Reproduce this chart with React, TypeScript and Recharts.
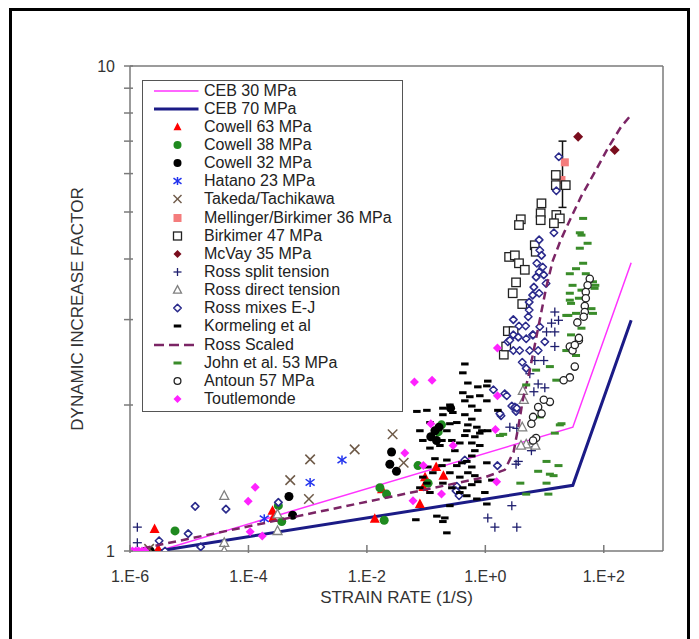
import React from 'react';
import { ScatterChart, Scatter, XAxis, YAxis, ReferenceLine, ErrorBar, Legend } from 'recharts';

type Pt = [number, number];

const FONT = '"Liberation Sans", Arial, sans-serif';
const AXIS = '#7a7a7a';

// tick values and labels
const xTicks = [1e-6, 1e-4, 1e-2, 1, 100];
const xTickLabels = ['1.E-6', '1.E-4', '1.E-2', '1.E+0', '1.E+2'];
const yTicks = [1, 2, 3, 4, 5, 6, 7, 8, 9, 10];
const yTickLabels: Record<number, string> = { 1: '1', 10: '10' };

// model curves
const ceb30: Pt[] = [[3e-6, 1], [30, 1.8], [290, 3.93]];
const ceb70: Pt[] = [[3e-6, 1], [30, 1.366], [290, 2.99]];
const rossScaled: Pt[] = [
  [1e-6, 1], [1.0, 1.42], [2.13, 1.47], [3.0, 1.6], [3.6, 1.8], [4.3, 2.05], [5.64, 2.36],
  [7.1, 2.72], [8.87, 3.12], [10.7, 3.5], [13.7, 3.96], [18.5, 4.36], [26.7, 4.81],
  [41.7, 5.39], [70.5, 6.04], [119, 6.79], [194, 7.48], [297, 7.96],
];

// test data
const cowell63: Pt[] = [
  [2.6e-6, 1.11], [3.0e-6, 1.01], [2.55e-4, 1.21], [2.6e-4, 1.17], [1.8e-2, 1.34], [1.36e-2, 1.165],
  [0.148, 1.49], [0.196, 1.43], [0.096, 1.42], [0.09, 1.355], [0.0785, 1.25],
];
const cowell38: Pt[] = [
  [5.75e-6, 1.1], [3.2e-4, 1.24], [3.65e-4, 1.15], [1.66e-2, 1.35], [2.15e-2, 1.31], [1.96e-2, 1.157],
  [0.182, 1.82], [0.16, 1.76], [0.073, 1.5], [0.108, 1.38],
];
const cowell32: Pt[] = [
  [2.2e-6, 1.0], [4.83e-4, 1.295], [5.57e-4, 1.185], [2.61e-2, 1.6], [2.44e-2, 1.51], [3.16e-2, 1.46],
  [0.259, 1.97], [0.141, 1.77], [0.12, 1.72], [0.15, 1.69], [0.165, 1.8],
];
const hatano: Pt[] = [[1.85e-4, 1.165], [1.1e-3, 1.385], [3.8e-3, 1.54]];
const takeda: Pt[] = [
  [2.1e-6, 1.01], [5.07e-4, 1.4], [1.1e-3, 1.545], [1.05e-3, 1.28], [6.22e-3, 1.62], [2.72e-2, 1.74], [4.18e-2, 1.52],
];
const mellinger: Pt[] = [[22.0, 6.33], [19.3, 5.82]];
const mellingerSpread = [{ x: 20.1, y: 5.93, err: [0.82, 1.07] }];
const birkimer: Pt[] = [
  [15.5, 5.96], [15.5, 5.68], [22.8, 5.68], [8.87, 5.21], [8.6, 4.97], [8.6, 4.81], [3.97, 4.83], [3.7, 4.7],
  [15.8, 4.93], [18.1, 4.85], [14.4, 4.74], [6.84, 4.27], [7.1, 4.14], [2.52, 4.04], [3.15, 4.07], [3.7, 3.92],
  [4.64, 3.8], [3.3, 3.58], [2.9, 3.4], [4.2, 3.23], [2.4, 2.84], [3.0, 2.84], [2.05, 2.54], [2.25, 2.64],
];
const mcvay: Pt[] = [[36.9, 7.15], [153, 6.71]];
const rossSplit: Pt[] = [
  [1.33e-6, 1.12], [1.33e-6, 1.04], [14.9, 3.11], [17.2, 2.99], [13.1, 2.95], [14.9, 2.83], [10.8, 2.83],
  [14.9, 2.64], [6.84, 2.47], [9.7, 2.47], [5.64, 2.32], [7.8, 2.21], [10.1, 2.17], [6.6, 2.13], [2.59, 1.8],
  [3.4, 1.79], [3.3, 1.51], [3.6, 1.53], [6.0, 1.61], [2.8, 1.24], [1.1, 1.17], [1.45, 1.12], [3.4, 1.12],
];
const rossDirect: Pt[] = [
  [3.9e-5, 1.3], [3.9e-5, 1.04], [3.9e-5, 1.0], [3.1e-4, 1.19], [3.1e-4, 1.1], [4.3, 2.14], [4.47, 2.05],
  [4.2, 1.8], [4.9, 1.66], [4.0, 1.65], [6.4, 1.69], [7.0, 1.65],
];
const rossMixes: Pt[] = [
  [3.9e-6, 1.0], [3.1e-6, 1.05], [9.6e-6, 1.086], [1.26e-5, 1.236], [1.56e-5, 1.02], [4.17e-5, 1.22], [3.2e-4, 1.26],
  [0.45, 1.54], [0.33, 1.36], [0.32, 1.33], [0.36, 1.3], [1.37, 2.15], [2.13, 2.11], [2.8, 1.99], [3.3, 1.94],
  [1.84, 1.9], [1.6, 1.5],
  [17.4, 6.5], [15.8, 5.53], [14.4, 4.53], [8.1, 4.38], [8.3, 4.17], [8.9, 4.07], [7.4, 3.92], [9.3, 3.85],
  [8.1, 3.76], [9.7, 3.71], [7.2, 3.67], [10.6, 3.56], [6.6, 3.5], [8.1, 3.4], [6.3, 3.37], [5.5, 3.26],
  [5.5, 3.14], [5.3, 3.04], [2.97, 3.0], [3.7, 2.91], [4.8, 2.91], [6.3, 2.79], [2.97, 2.79], [4.9, 2.74],
  [2.4, 2.7], [2.97, 2.59], [3.8, 2.59], [5.6, 2.59], [7.8, 2.59], [10.1, 2.7], [4.2, 2.45], [4.9, 2.38],
  [3.15, 1.98], [2.59, 2.72], [3.6, 2.76], [6.4, 2.79], [8.3, 2.9], [2.3, 2.09], [3.4, 1.97], [1.76, 1.92],
];
const kormeling: Pt[] = [
  [0.451, 2.43], [0.417, 2.33], [0.507, 2.22], [0.747, 2.18], [1.06, 2.19], [1.1, 2.24], [0.417, 2.12],
  [0.547, 2.08], [0.807, 2.09], [1.06, 2.04], [0.451, 2.04], [0.591, 1.99], [0.747, 1.95], [0.451, 1.91],
  [0.591, 1.87], [0.507, 1.82], [0.719, 1.8], [0.873, 1.77], [0.487, 1.77], [0.451, 1.73], [0.665, 1.72],
  [0.807, 1.75], [0.807, 1.65], [0.665, 1.61], [0.591, 1.57], [0.487, 1.53], [0.401, 1.52], [0.591, 1.49],
  [0.507, 1.45], [0.665, 1.43], [0.747, 1.39], [0.591, 1.37], [0.417, 1.35], [0.272, 1.35], [0.371, 1.32],
  [0.487, 1.3], [0.719, 1.28], [0.981, 1.32], [1.06, 1.25], [0.252, 1.24], [0.207, 1.17], [0.192, 1.15],
  [0.224, 1.09], [0.0671, 1.16], [0.152, 1.18], [0.116, 1.32], [0.103, 1.38], [0.0881, 1.42], [0.107, 1.49],
  [0.141, 1.55], [0.116, 1.63], [0.0881, 1.69], [0.0785, 1.77], [0.116, 1.84], [0.0698, 1.94], [0.103, 1.95],
  [0.192, 1.91], [0.192, 1.97], [0.252, 2.0], [0.252, 1.83], [0.224, 1.77], [0.185, 1.69], [0.272, 1.69],
  [0.306, 1.61], [0.224, 1.54], [0.185, 1.5], [0.33, 1.5], [0.252, 1.45], [0.192, 1.38], [0.371, 1.42],
  [0.13, 1.45], [0.0785, 1.35], [1.1, 1.77], [1.29, 1.4], [1.06, 1.52], [1.63, 1.95], [0.171, 1.65],
  [0.371, 1.67], [0.33, 1.84], [0.283, 1.93], [0.591, 1.67],
];
const john: Pt[] = [
  [44.8, 4.85], [39.4, 4.53], [42, 4.48], [53.3, 4.31], [39.4, 4.21], [44.8, 3.92], [34, 3.82], [26.7, 3.73],
  [65.7, 3.59], [29.7, 3.53], [70, 3.48], [26.7, 3.4], [38, 3.32], [28, 3.24], [62, 3.16], [34, 3.09],
  [25.2, 3.06], [42, 2.88], [49.7, 3.73], [72, 3.53], [42, 3.45], [26.7, 3.29], [65.7, 3.09], [23.3, 3.06],
  [28, 2.79], [23.3, 2.59], [12.3, 2.4], [7.2, 2.36], [34, 2.53], [15.8, 2.25], [8.3, 1.89], [4.9, 2.2],
  [14.9, 1.75], [18.1, 1.82], [1.76, 1.73], [10.8, 1.53], [17.2, 1.5], [12.3, 1.44], [3.9, 1.38], [10.8, 1.38],
  [2.0, 1.74], [19.3, 1.83], [7.8, 1.46], [14.2, 1.43], [11.6, 1.31], [4.9, 1.31],
];
const antoun: Pt[] = [
  [58, 3.64], [53.3, 3.53], [49.7, 3.42], [49.7, 3.32], [47.8, 3.2], [47.8, 3.11], [45.8, 3.04], [35.8, 2.96],
  [38, 2.72], [26.7, 2.64], [29.7, 2.59], [32.4, 2.4], [26.7, 2.28], [21, 2.25], [12.3, 2.03], [9.7, 2.05],
  [7.8, 1.98], [8.9, 1.92], [6.4, 1.89], [6.0, 1.83], [7.2, 1.71], [6.4, 1.69], [32.4, 2.66], [38, 2.75],
];
const toutlemonde: Pt[] = [
  [1.0e-6, 1], [1.1e-6, 1], [1.25e-6, 1], [1.4e-6, 1], [1.6e-6, 1], [1.8e-6, 1], [1.3e-4, 1.353],
  [9.9e-5, 1.266], [1.07e-4, 1.096], [1.71e-4, 1.074], [4.37e-2, 1.593], [6.35e-2, 2.23], [0.126, 2.25],
  [0.12, 1.83], [0.285, 1.65], [0.09, 1.5], [0.182, 1.31], [0.06, 1.27], [1.48, 1.78], [1.55, 1.39],
  [1.6, 2.09], [1.6, 2.62],
];

type Kind = 'line' | 'tri' | 'triOpen' | 'circle' | 'circleOpen' | 'square' | 'squareOpen' | 'diamond'
  | 'diamondOpen' | 'plus' | 'cross' | 'star' | 'dash';

interface Series {
  name: string;
  kind: Kind;
  color: string;
  size: number;
  data: Pt[];
  width?: number;
  dash?: string;
}

const series: Series[] = [
  { name: 'CEB 30 MPa', kind: 'line', color: '#ff33ff', size: 0, width: 1.5, data: ceb30 },
  { name: 'CEB 70 MPa', kind: 'line', color: '#1b1b86', size: 0, width: 3, data: ceb70 },
  { name: 'Cowell 63 MPa', kind: 'tri', color: '#ff0000', size: 10, data: cowell63 },
  { name: 'Cowell 38 MPa', kind: 'circle', color: '#1f8a1f', size: 9, data: cowell38 },
  { name: 'Cowell 32 MPa', kind: 'circle', color: '#000000', size: 9, data: cowell32 },
  { name: 'Hatano 23 MPa', kind: 'star', color: '#2233ee', size: 9, data: hatano },
  { name: 'Takeda/Tachikawa', kind: 'cross', color: '#6e5a48', size: 9.5, data: takeda },
  { name: 'Mellinger/Birkimer 36 MPa', kind: 'square', color: '#f47c7c', size: 8, data: mellinger },
  { name: 'Birkimer 47 MPa', kind: 'squareOpen', color: '#222222', size: 8.5, data: birkimer },
  { name: 'McVay 35 MPa', kind: 'diamond', color: '#7a0d1d', size: 10, data: mcvay },
  { name: 'Ross split tension', kind: 'plus', color: '#1e1e6e', size: 9, data: rossSplit },
  { name: 'Ross direct tension', kind: 'triOpen', color: '#808080', size: 9, data: rossDirect },
  { name: 'Ross mixes E-J', kind: 'diamondOpen', color: '#2b2b8c', size: 7.5, data: rossMixes },
  { name: 'Kormeling et al', kind: 'dash', color: '#000000', size: 7.5, data: kormeling },
  { name: 'Ross Scaled', kind: 'line', color: '#7b2565', size: 0, width: 2.5, dash: '8 5', data: rossScaled },
  { name: 'John et al. 53 MPa', kind: 'dash', color: '#3a8c2a', size: 8, data: john },
  { name: 'Antoun 57 MPa', kind: 'circleOpen', color: '#222222', size: 8.5, data: antoun },
  { name: 'Toutlemonde', kind: 'diamond', color: '#ff22ff', size: 9, data: toutlemonde },
];

function Glyph({ kind, cx, cy, color, s }: { kind: Kind; cx: number; cy: number; color: string; s: number }) {
  const h = s / 2;
  switch (kind) {
    case 'tri':
    case 'triOpen': {
      const pts = `${cx},${cy - h * 1.1} ${cx + h},${cy + h * 0.8} ${cx - h},${cy + h * 0.8}`;
      return kind === 'tri'
        ? <polygon points={pts} fill={color} />
        : <polygon points={pts} fill="#fff" stroke={color} strokeWidth={1.3} />;
    }
    case 'circle':
      return <circle cx={cx} cy={cy} r={h} fill={color} />;
    case 'circleOpen':
      return <circle cx={cx} cy={cy} r={h - 0.6} fill="#fff" stroke={color} strokeWidth={1.3} />;
    case 'square':
      return <rect x={cx - h} y={cy - h} width={s} height={s} fill={color} />;
    case 'squareOpen':
      return <rect x={cx - h} y={cy - h} width={s} height={s} fill="#fff" stroke={color} strokeWidth={1.3} />;
    case 'diamond':
    case 'diamondOpen': {
      const pts = `${cx},${cy - h} ${cx + h},${cy} ${cx},${cy + h} ${cx - h},${cy}`;
      return kind === 'diamond'
        ? <polygon points={pts} fill={color} />
        : <polygon points={pts} fill="#fff" stroke={color} strokeWidth={1.6} strokeLinejoin="round" />;
    }
    case 'plus':
      return (
        <g stroke={color} strokeWidth={1.3}>
          <line x1={cx - h} x2={cx + h} y1={cy} y2={cy} />
          <line x1={cx} x2={cx} y1={cy - h} y2={cy + h} />
        </g>
      );
    case 'cross':
      return (
        <g stroke={color} strokeWidth={1.5}>
          <line x1={cx - h} x2={cx + h} y1={cy - h} y2={cy + h} />
          <line x1={cx - h} x2={cx + h} y1={cy + h} y2={cy - h} />
        </g>
      );
    case 'star':
      return (
        <g stroke={color} strokeWidth={1.5}>
          <line x1={cx - h} x2={cx + h} y1={cy - h * 0.7} y2={cy + h * 0.7} />
          <line x1={cx - h} x2={cx + h} y1={cy + h * 0.7} y2={cy - h * 0.7} />
          <line x1={cx} x2={cx} y1={cy - h} y2={cy + h} />
        </g>
      );
    case 'dash':
      return <rect x={cx - h} y={cy - 1.5} width={s} height={3} fill={color} />;
    default:
      return <g />;
  }
}

const XTick = (props: any) => {
  const { x, y, index } = props;
  return (
    <g>
      <line x1={x} x2={x} y1={y - 6} y2={y + 2} stroke={AXIS} strokeWidth={1.5} />
      <text x={x} y={y + 25} dy="0.35em" textAnchor="middle" fontSize={16} fill="#333" fontFamily={FONT}>
        {xTickLabels[index]}
      </text>
    </g>
  );
};

const YTick = (props: any) => {
  const { x, y, payload } = props;
  const label = yTickLabels[payload.value];
  return (
    <g>
      <line x1={x - 6} x2={x + 3} y1={y} y2={y} stroke={AXIS} strokeWidth={1.5} />
      {label && (
        <text x={x - 15} y={y} dy="0.35em" textAnchor="end" fontSize={16} fill="#333" fontFamily={FONT}>
          {label}
        </text>
      )}
    </g>
  );
};

const LegendBox = () => (
  <div
    style={{
      position: 'relative', width: 261, height: 332, boxSizing: 'border-box',
      border: '1.5px solid #555', background: '#fff', fontFamily: FONT,
    }}
  >
    {series.map((s, i) => (
      <div key={s.name} style={{ position: 'absolute', left: 0, top: 0.5 + i * 18.15, height: 18, width: 258 }}>
        <svg width={46} height={18} style={{ position: 'absolute', left: 11, top: 0 }}>
          {s.kind === 'line' ? (
            <line x1={0} x2={44.5} y1={9} y2={9} stroke={s.color} strokeWidth={s.width} strokeDasharray={s.dash ? '10 5' : undefined} />
          ) : (
            <Glyph kind={s.kind} cx={23.5} cy={9} color={s.color} s={Math.min(s.size, 8)} />
          )}
        </svg>
        <span style={{ position: 'absolute', left: 61, top: 0, lineHeight: '18px', fontSize: 16, color: '#222', whiteSpace: 'nowrap' }}>
          {s.name}
        </span>
      </div>
    ))}
  </div>
);

const toRows = (pts: Pt[]) => pts.map(([x, y]) => ({ x, y }));

export default function App() {
  return (
    <div style={{ position: 'absolute', left: 0, top: 0, width: 699, height: 639, background: '#fff', overflow: 'hidden', fontFamily: FONT }}>
      <div style={{ position: 'absolute', left: 9, top: 8, width: 681, height: 700, border: '3px solid #000', boxSizing: 'border-box' }} />
      <div style={{ position: 'absolute', left: 0, top: 0 }}>
        <ScatterChart width={699} height={639} margin={{ top: 66, right: 36, bottom: 48, left: 90 }}>
          <XAxis
            type="number"
            dataKey="x"
            scale="log"
            domain={[1e-6, 1000]}
            allowDataOverflow
            ticks={xTicks}
            interval={0}
            tick={(p: any) => <XTick {...p} />}
            tickLine={false}
            tickSize={0}
            tickMargin={0}
            height={40}
            axisLine={{ stroke: AXIS, strokeWidth: 1.5 }}
          />
          <YAxis
            type="number"
            dataKey="y"
            scale="log"
            domain={[1, 10]}
            allowDataOverflow
            ticks={yTicks}
            interval={0}
            tick={(p: any) => <YTick {...p} />}
            tickLine={false}
            tickSize={0}
            tickMargin={0}
            width={40}
            axisLine={{ stroke: AXIS, strokeWidth: 1.5 }}
          />
          <ReferenceLine y={10} stroke={AXIS} strokeWidth={1.5} />
          <ReferenceLine x={1000} stroke={AXIS} strokeWidth={1.5} />
          {series.map((s) =>
            s.kind === 'line' ? (
              <Scatter
                key={s.name}
                name={s.name}
                data={toRows(s.data)}
                isAnimationActive={false}
                line={{ stroke: s.color, strokeWidth: s.width, strokeDasharray: s.dash }}
                shape={() => <g />}
              />
            ) : (
              <Scatter
                key={s.name}
                name={s.name}
                data={toRows(s.data)}
                isAnimationActive={false}
                shape={(p: any) => <Glyph kind={s.kind} cx={p.cx} cy={p.cy} color={s.color} s={s.size} />}
              />
            )
          )}
          <Scatter name="spread" data={mellingerSpread} isAnimationActive={false} shape={() => <g />}>
            <ErrorBar dataKey="err" direction="y" width={4} stroke="#111" strokeWidth={1.5} />
          </Scatter>
          <Legend
            layout="vertical"
            align="center"
            verticalAlign="middle"
            wrapperStyle={{ left: 142, top: 80, width: 261, height: 332 }}
            content={() => <LegendBox />}
          />
        </ScatterChart>
      </div>
      <div style={{ position: 'absolute', left: 130, width: 533, top: 588, height: 20, lineHeight: '20px', textAlign: 'center', fontSize: 17, color: '#333' }}>
        STRAIN RATE (1/S)
      </div>
      <div
        style={{
          position: 'absolute', left: 77.5 - 150, top: 308.6 - 10, width: 300, height: 20, lineHeight: '20px',
          textAlign: 'center', fontSize: 17, color: '#333', transform: 'rotate(-90deg)',
        }}
      >
        DYNAMIC INCREASE FACTOR
      </div>
    </div>
  );
}
